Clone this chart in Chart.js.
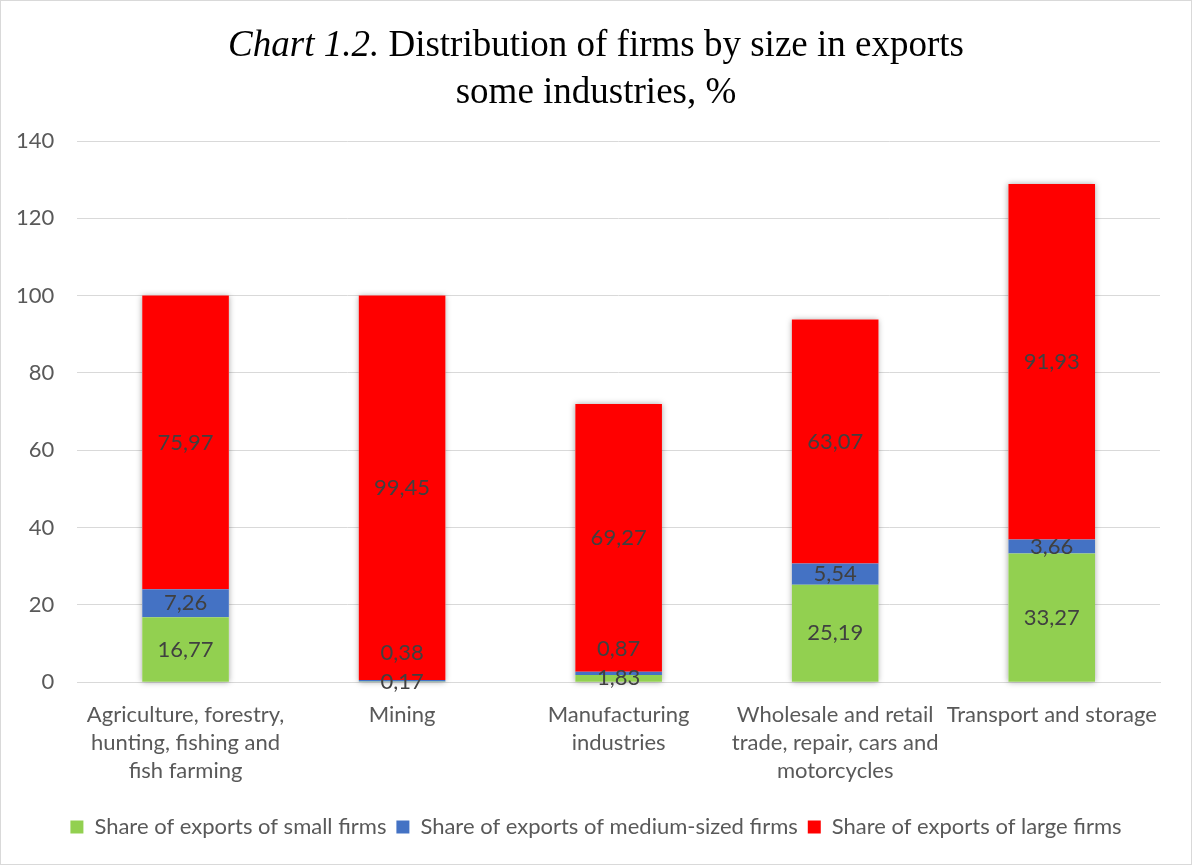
<!DOCTYPE html>
<html>
<head>
<meta charset="utf-8">
<script src="https://cdn.jsdelivr.net/npm/chart.js@4.4.1/dist/chart.umd.min.js"></script>
<style>
body { margin: 0; background: #fff; }
#wrap { position: absolute; left: 0; top: 0; width: 1190px; height: 863px; border: 1px solid #d9d9d9; }
</style>
</head>
<body>
<div id="wrap"><canvas id="chart" width="1190" height="863"></canvas></div>
<script>
// Chart data
var categories = [
    ["Agriculture, forestry,", "hunting, fishing and", "fish farming"],
    ["Mining"],
    ["Manufacturing", "industries"],
    ["Wholesale and retail", "trade, repair, cars and", "motorcycles"],
    ["Transport and storage"]
];
var smallFirms  = [16.77, 0.17, 1.83, 25.19, 33.27];
var mediumFirms = [7.26, 0.38, 0.87, 5.54, 3.66];
var largeFirms  = [75.97, 99.45, 69.27, 63.07, 91.93];
var seriesNames = [
    "Share of exports of small firms",
    "Share of exports of medium-sized firms",
    "Share of exports of large firms"
];
var titleItalic = "Chart 1.2.";
var titleRest = " Distribution of firms by size in exports";
var titleLine2 = "some industries, %";
var yMin = 0, yMax = 140, yStep = 20;

var labelFont = "Lato, 'Open Sans', sans-serif";

//Title drawn with mixed italic / regular
var titlePlugin = {
    id: "titleLines",
    afterLayout: function(chart)
    {
        //center the legend on the whole canvas, not on the padded box
        chart.legend.left = 0;
        chart.legend.right = chart.width;
        chart.legend.width = chart.width;
    },
    afterDraw: function(chart)
    {
        var ctx = chart.ctx;
        ctx.save();
        ctx.fillStyle = "#000000";
        ctx.textBaseline = "middle";
        var italic = "italic 37px 'Liberation Serif', serif";
        var normal = "37px 'Liberation Serif', serif";
        ctx.font = italic;
        var w1 = ctx.measureText(titleItalic).width;
        ctx.font = normal;
        var w2 = ctx.measureText(titleRest).width;
        var x = chart.width / 2 - (w1 + w2) / 2;
        ctx.textAlign = "left";
        ctx.font = italic;
        ctx.fillText(titleItalic, x, 45);
        ctx.font = normal;
        ctx.fillText(titleRest, x + w1, 45);
        ctx.textAlign = "center";
        ctx.fillText(titleLine2, chart.width / 2, 92);
        ctx.restore();
    }
};

//Soft shadow behind each stacked column
var stackShadow = {
    id: "stackShadow",
    beforeDatasetsDraw: function(chart)
    {
        var ctx = chart.ctx;
        var last = chart.data.datasets.length - 1;
        ctx.save();
        ctx.fillStyle = "#ffffff";
        ctx.shadowColor = "rgba(0, 0, 0, 0.35)";
        ctx.shadowBlur = 6;
        for (var i = 0; i < chart.data.labels.length; i++)
        {
            var bottom = chart.getDatasetMeta(0).data[i];
            var top = chart.getDatasetMeta(last).data[i];
            ctx.fillRect(bottom.x - bottom.width / 2, top.y, bottom.width, bottom.base - top.y);
        }
        ctx.restore();
    }
};

//Value labels, centered in segments, nudged up when they would overlap
var valueLabels = {
    id: "valueLabels",
    afterDatasetsDraw: function(chart)
    {
        var ctx = chart.ctx;
        ctx.save();
        ctx.font = "22px " + labelFont;
        ctx.fillStyle = "#404040";
        ctx.textAlign = "center";
        ctx.textBaseline = "middle";
        for (var i = 0; i < chart.data.labels.length; i++)
        {
            var prevY = null;
            chart.data.datasets.forEach(function(ds, d) {
                var bar = chart.getDatasetMeta(d).data[i];
                var y = (bar.y + bar.base) / 2;
                if (prevY !== null && prevY - y < 29) { y = prevY - 29; }
                ctx.fillText(ds.data[i].toFixed(2).replace(".", ","), bar.x, y);
                prevY = y;
            });
        }
        ctx.restore();
    }
};

var colors = ["#92D050", "#4472C4", "#FF0000"];
var values = [smallFirms, mediumFirms, largeFirms];
var datasets = [];
for (var s = 0; s < values.length; s++)
{
    datasets.push({
        label: seriesNames[s],
        data: values[s],
        backgroundColor: colors[s],
        borderWidth: 0,
        barPercentage: 0.4,
        categoryPercentage: 1.0
    });
}

new Chart(document.getElementById("chart"), {
    type: "bar",
    data: { labels: categories, datasets: datasets },
    plugins: [titlePlugin, stackShadow, valueLabels],
    options: {
        responsive: false,
        animation: false,
        layout: { padding: { left: -8, right: 31, top: 140, bottom: 16 } },
        plugins: {
            title: { display: false },
            tooltip: { enabled: false },
            legend: {
                position: "bottom",
                labels: {
                    color: "#595959",
                    font: { family: labelFont, size: 22 },
                    boxWidth: 13,
                    boxHeight: 13,
                    padding: 10
                }
            }
        },
        scales: {
            x: {
                stacked: true,
                grid: { display: false },
                border: { color: "#d9d9d9", width: 1 },
                ticks: {
                    color: "#595959",
                    font: { family: labelFont, size: 22, lineHeight: 1.27 },
                    maxRotation: 0,
                    autoSkip: false,
                    padding: 11
                },
                afterFit: function(scale) {
                    scale.height += 10;
                }
            },
            y: {
                stacked: true,
                min: yMin,
                max: yMax,
                ticks: {
                    stepSize: yStep,
                    color: "#595959",
                    font: { family: labelFont, size: 22 },
                    padding: 23
                },
                grid: { color: "#d9d9d9", drawTicks: false },
                border: { display: false }
            }
        }
    }
});
</script>
</body>
</html>
